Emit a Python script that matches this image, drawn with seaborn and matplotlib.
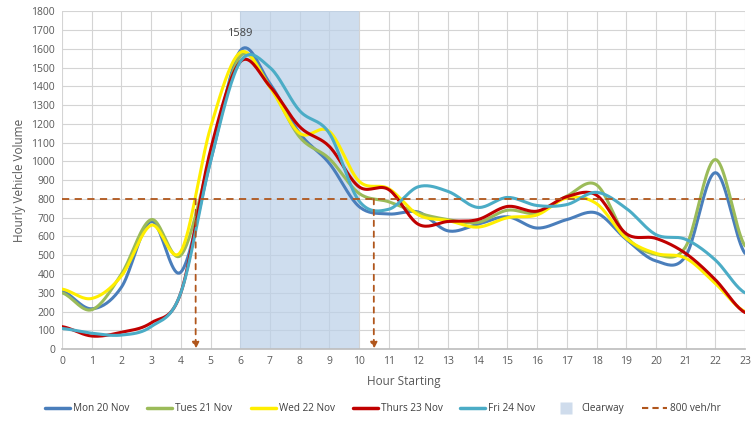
import numpy as np
import pandas as pd
import matplotlib
matplotlib.use("Agg")
import matplotlib.pyplot as plt
import seaborn as sns
from matplotlib.lines import Line2D

hours = list(range(24))
mon = [310, 215, 330, 680, 410, 1000, 1589, 1415, 1150, 990, 760, 720, 730, 630, 665, 705, 645, 690, 725, 585, 470, 495, 940, 510]
tue = [300, 210, 400, 690, 500, 1020, 1560, 1400, 1130, 1015, 830, 785, 725, 690, 675, 740, 725, 815, 875, 600, 505, 545, 1010, 550]
wed = [320, 270, 390, 660, 520, 1180, 1580, 1395, 1150, 1160, 895, 855, 715, 685, 650, 700, 715, 805, 775, 590, 510, 485, 350, 200]
thu = [120, 70, 90, 140, 300, 1060, 1530, 1400, 1185, 1080, 865, 850, 665, 680, 690, 760, 735, 812, 820, 615, 590, 510, 370, 195]
fri = [110, 85, 75, 120, 300, 1000, 1530, 1500, 1270, 1150, 790, 745, 865, 840, 755, 808, 765, 770, 835, 750, 610, 585, 475, 300]
series_names = ["Mon 20 Nov", "Tues 21 Nov", "Wed 22 Nov", "Thurs 23 Nov", "Fri 24 Nov"]
series_vals = [mon, tue, wed, thu, fri]
colors = ["#4a7ebb", "#9bbb59", "#ffee00", "#c00000", "#4bacc6"]
clearway = (6, 10)
threshold = 800
crossings = [4.5, 10.5]
peak_label = "1589"


def smooth(x, y, n=20):
    # Excel-style smoothed line (Catmull-Rom Bezier) through the data points
    x = np.asarray(x, float); y = np.asarray(y, float)
    px = np.concatenate([[2 * x[0] - x[1]], x, [2 * x[-1] - x[-2]]])
    py = np.concatenate([[y[0]], y, [y[-1]]])
    xs, ys = [], []
    t = np.linspace(0, 1, n, endpoint=False)
    for i in range(1, len(px) - 2):
        p0x, p1x, p2x, p3x = px[i - 1], px[i], px[i + 1], px[i + 2]
        p0y, p1y, p2y, p3y = py[i - 1], py[i], py[i + 1], py[i + 2]
        c1x = p1x + (p2x - p0x) / 6; c1y = p1y + (p2y - p0y) / 6
        c2x = p2x - (p3x - p1x) / 6; c2y = p2y - (p3y - p1y) / 6
        bx = (1 - t) ** 3 * p1x + 3 * (1 - t) ** 2 * t * c1x + 3 * (1 - t) * t ** 2 * c2x + t ** 3 * p2x
        by = (1 - t) ** 3 * p1y + 3 * (1 - t) ** 2 * t * c1y + 3 * (1 - t) * t ** 2 * c2y + t ** 3 * p2y
        xs.append(bx); ys.append(by)
    xs.append([x[-1]]); ys.append([y[-1]])
    return np.concatenate(xs), np.concatenate(ys)


sns.set_theme(style="whitegrid")
plt.rcParams['font.family'] = ['Open Sans', 'DejaVu Sans']

fig = plt.figure(figsize=(7.51, 4.30), dpi=100)
ax = fig.add_axes([0.0826, 0.188, 0.9094, 0.786])

ax.axvspan(clearway[0], clearway[1], color="#bcd0e8", alpha=0.72, zorder=1, lw=0)

frames = []
for name, vals in zip(series_names, series_vals):
    sx, sy = smooth(hours, vals)
    frames.append(pd.DataFrame({"x": sx, "y": sy, "s": name}))
df = pd.concat(frames, ignore_index=True)
sns.lineplot(data=df, x="x", y="y", hue="s", palette=dict(zip(series_names, colors)),
             sort=False, estimator=None, lw=2.2, ax=ax, legend=False, zorder=3)

brown = "#b0561c"
ax.axhline(threshold, color=brown, ls=(0, (4, 3)), lw=1.3, zorder=4)
for cx in crossings:
    ax.annotate("", xy=(cx, 0), xytext=(cx, threshold),
                arrowprops=dict(arrowstyle="-|>", color=brown, lw=1.3, ls=(0, (3, 3)),
                                mutation_scale=10, shrinkA=0, shrinkB=0), zorder=4)

ax.text(6, 1682, peak_label, ha="center", va="center", fontsize=8, color="#404040")

ax.set_xlim(0, 23)
ax.set_ylim(0, 1800)
ax.set_xticks(hours)
ax.set_yticks(range(0, 1801, 100))
ax.tick_params(axis="both", labelsize=7.5, colors="#595959", length=0, pad=5)
ax.grid(True, color="#d4d4d4", lw=0.8)
ax.set_axisbelow(True)
for sp in ["top", "right", "left"]:
    ax.spines[sp].set_visible(False)
ax.spines["bottom"].set_color("#bfbfbf")
ax.set_facecolor("none")
ax.set_xlabel("Hour Starting", fontsize=8.5, color="#595959", labelpad=6)
ax.set_ylabel("Hourly Vehicle Volume", fontsize=8.5, color="#595959", labelpad=4)

handles = [Line2D([0], [0], color=c, lw=2.5) for c in colors]
handles.append(Line2D([0], [0], marker="s", ls="none", markersize=9,
                      markerfacecolor="#cfdcec", markeredgecolor="none"))
handles.append(Line2D([0], [0], color=brown, lw=1.5, ls=(0, (3, 2))))
labels = series_names + ["Clearway", "800 veh/hr"]
fig.legend(handles, labels, loc="center", bbox_to_anchor=(0.51, 0.05), ncol=7,
           frameon=False, fontsize=7.2, handlelength=2.5, handletextpad=0.3,
           columnspacing=1.8, labelcolor="#404040")

fig.savefig("out.png", dpi=100)
